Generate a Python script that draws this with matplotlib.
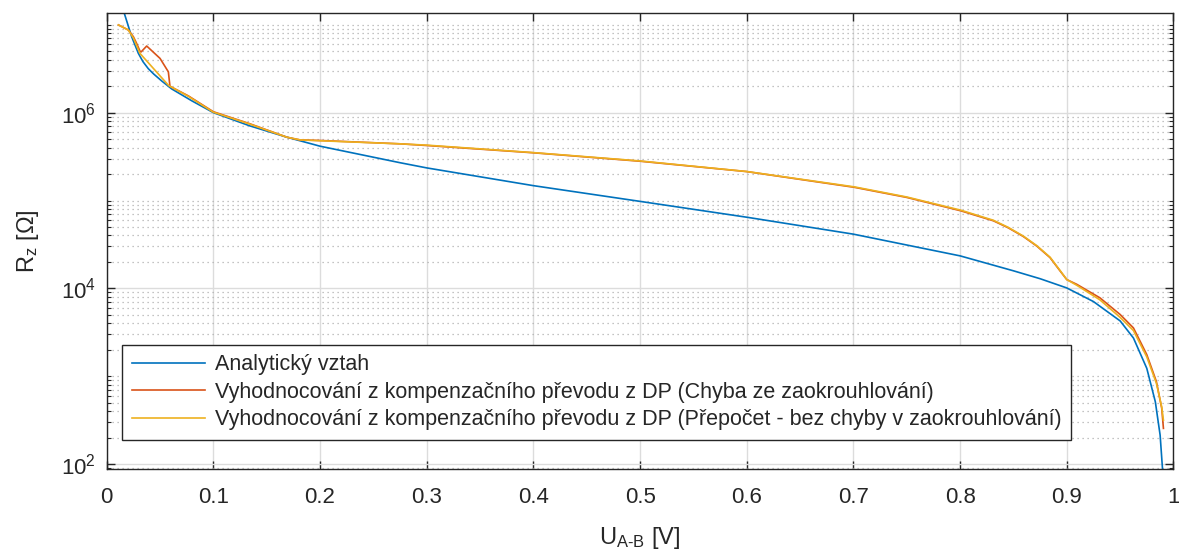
import matplotlib.pyplot as plt
import matplotlib.ticker as mticker
import numpy as np

plt.rcParams['font.family'] = ['Liberation Sans', 'DejaVu Sans']
plt.rcParams['mathtext.default'] = 'regular'

# napeti U_A-B [V] a log10(R_z)
u_analyt = [0.0165, 0.0234, 0.0297, 0.034, 0.039, 0.044, 0.0516, 0.0609, 0.0797,
            0.1, 0.134, 0.169, 0.2, 0.275, 0.3, 0.4, 0.5, 0.6015,
            0.7, 0.8, 0.85, 0.875, 0.9, 0.925, 0.95, 0.9625, 0.975,
            0.983, 0.9875, 0.99]
logr_analyt = [7.13, 6.864, 6.674, 6.58, 6.50, 6.44, 6.36, 6.27, 6.135,
               6.0, 5.85, 5.72, 5.618, 5.43, 5.371, 5.169, 4.99, 4.807,
               4.617, 4.37, 4.2, 4.11, 4.005, 3.85, 3.63, 3.435, 3.09,
               2.71, 2.33, 1.9]

u_chyba = [0.011, 0.0203, 0.025, 0.028, 0.0312, 0.0322, 0.0375, 0.05, 0.0578, 0.0593,
           0.0766, 0.1, 0.134, 0.169, 0.181, 0.2, 0.275, 0.3, 0.4,
           0.5, 0.6, 0.7009, 0.75, 0.8006, 0.8312, 0.845, 0.8593, 0.872, 0.8843, 0.893, 0.9,
           0.9094, 0.931, 0.95, 0.9625, 0.975, 0.984, 0.989, 0.9906]
logr_chyba = [6.998, 6.94, 6.864, 6.789, 6.70, 6.69, 6.758, 6.617, 6.464, 6.30,
              6.19, 6.01, 5.874, 5.72, 5.69, 5.683, 5.645, 5.626, 5.543,
              5.447, 5.329, 5.15, 5.035, 4.883, 4.769, 4.69, 4.59, 4.48, 4.35, 4.21, 4.10,
              4.046, 3.893, 3.703, 3.55, 3.246, 2.94, 2.636, 2.407]

u_prepocet = [0.011, 0.0203, 0.025, 0.0312, 0.0578, 0.0593, 0.0766, 0.1, 0.134,
              0.169, 0.181, 0.2, 0.275, 0.3, 0.4, 0.5, 0.6, 0.7009,
              0.75, 0.8006, 0.8312, 0.845, 0.8593, 0.872, 0.8843, 0.893, 0.9, 0.9094, 0.931, 0.95, 0.9625,
              0.975, 0.984, 0.989, 0.9906]
logr_prepocet = [6.998, 6.94, 6.85, 6.674, 6.312, 6.30, 6.185, 6.005, 5.87,
                 5.72, 5.69, 5.68, 5.645, 5.63, 5.545, 5.45, 5.33, 5.155,
                 5.04, 4.89, 4.775, 4.695, 4.595, 4.485, 4.355, 4.215, 4.10, 4.035, 3.87, 3.67, 3.52,
                 3.22, 2.92, 2.65, 2.5]

labels = ['Analytický vztah',
          'Vyhodnocování z kompenzačního převodu z DP (Chyba ze zaokrouhlování)',
          'Vyhodnocování z kompenzačního převodu z DP (Přepočet - bez chyby v zaokrouhlování)']

fig = plt.figure(figsize=(11.79, 5.54), dpi=100)
ax = fig.add_axes([0.0905, 0.1534, 0.9048, 0.8226])

ax.plot(u_analyt, 10 ** np.array(logr_analyt), color='#0072BD', lw=1.2, label=labels[0])
ax.plot(u_chyba, 10 ** np.array(logr_chyba), color='#D95319', lw=1.2, label=labels[1])
ax.plot(u_prepocet, 10 ** np.array(logr_prepocet), color='#EDB120', lw=1.2, label=labels[2])

ax.set_yscale('log')
ax.set_xlim(0, 1)
ax.set_ylim(88, 1.35e7)
ax.set_xticks(np.arange(0, 1.01, 0.1))
ax.set_xticklabels(['0', '0.1', '0.2', '0.3', '0.4', '0.5', '0.6', '0.7', '0.8', '0.9', '1'])
ax.yaxis.set_major_locator(mticker.FixedLocator([1e2, 1e4, 1e6]))
ax.yaxis.set_minor_locator(mticker.LogLocator(base=10, subs=np.arange(1, 10), numticks=30))
ax.yaxis.set_minor_formatter(mticker.NullFormatter())
ax.yaxis.set_major_formatter(mticker.FuncFormatter(lambda v, p: '$10^{%d}$' % round(np.log10(v))))

ax.grid(True, which='major', color='#DCDCDC', lw=1.0)
ax.grid(True, which='minor', axis='y', color='#B0B0B0', lw=0.9, linestyle=(0, (1, 3)))
ax.set_axisbelow(True)

dark = '#262626'
for s in ax.spines.values():
    s.set_color(dark)
    s.set_linewidth(1.0)
ax.tick_params(which='both', direction='in', top=True, right=True, colors=dark,
               labelsize=16, labelcolor=dark)
ax.tick_params(which='major', length=6, width=1.0)
ax.tick_params(axis='x', which='major', pad=13)
ax.tick_params(axis='y', which='major', pad=8)
ax.tick_params(which='minor', length=3, width=0.8)

ax.set_xlabel('U$_{A‐B}$ [V]', fontsize=17, color=dark, labelpad=12)
ax.set_ylabel('R$_{z}$ [Ω]', fontsize=17, color=dark, labelpad=14)

leg = ax.legend(loc='lower left', bbox_to_anchor=(0.0143, 0.0636), borderaxespad=0,
                fontsize=15.5, handlelength=3.4, fancybox=False, framealpha=1,
                labelspacing=0.3, borderpad=0.45, handletextpad=0.45)
leg.get_frame().set_edgecolor(dark)
leg.get_frame().set_linewidth(1.0)
for t in leg.get_texts():
    t.set_color(dark)

fig.savefig('out.png', dpi=100)
